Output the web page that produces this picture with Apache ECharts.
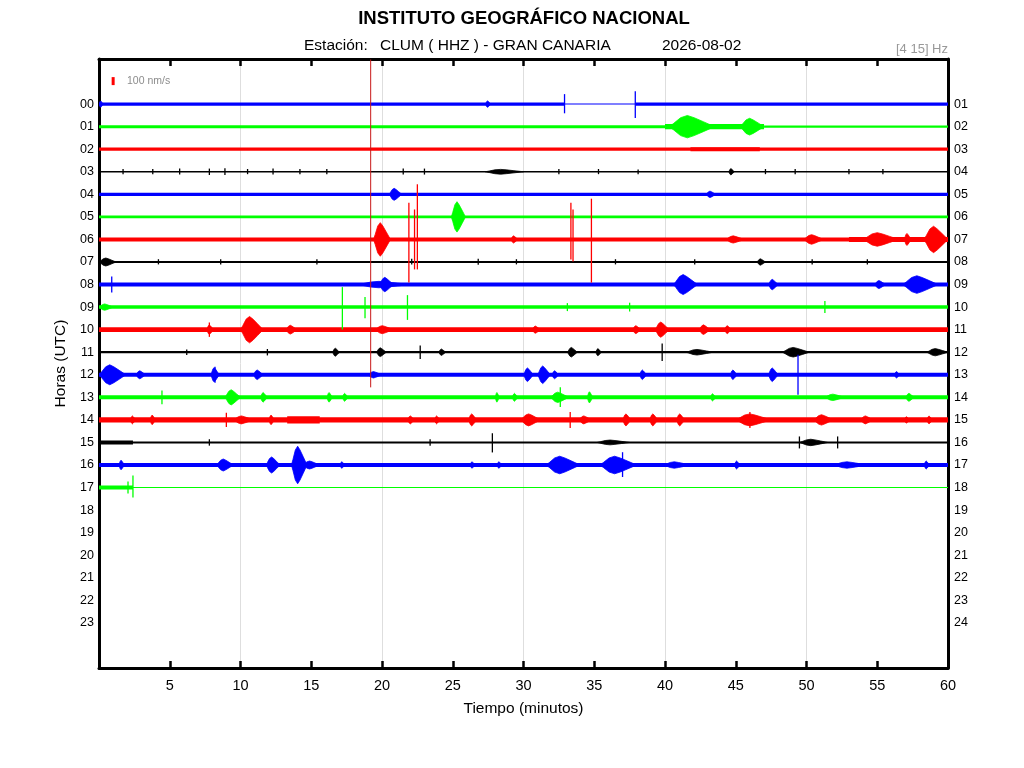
<!DOCTYPE html>
<html>
<head>
<meta charset="utf-8">
<script src="https://cdn.jsdelivr.net/npm/echarts@6/dist/echarts.min.js"></script>
<style>html,body{margin:0;padding:0;background:#fff}#c{width:1024px;height:768px}</style>
</head>
<body>
<div id="c"></div>
<script>
// ---------- data ----------
const titleText = 'INSTITUTO GEOGRÁFICO NACIONAL';
const stationLabel = 'Estación:';
const stationText = 'CLUM ( HHZ ) - GRAN CANARIA';
const dateText = '2026-08-02';
const filterText = '[4 15] Hz';
const scaleLabel = '100 nm/s';
const scaleValue = 100;              // nm/s, legend bar
const hourLabelsLeft = ['00','01','02','03','04','05','06','07','08','09','10','11','12','13','14','15','16','17','18','19','20','21','22','23'];
const hourLabelsRight = ['01','02','03','04','05','06','07','08','09','10','11','12','13','14','15','16','17','18','19','20','21','22','23','24'];
const minuteTicks = [5,10,15,20,25,30,35,40,45,50,55,60];
const rowColors = ['#0000ff','#00ff00','#ff0000','#000000'];
const gain = 0.003545;               // rows per nm/s

// background noise: [row, tStart(min), tEnd(min), half amplitude nm/s]
const noise = [
 [0,0,32.9,19],[0,32.9,37.9,0],[0,37.9,60,19],
 [1,0,40,19],[1,40,47,32],[1,47,60,15],
 [2,0,60,20],[2,41.8,46.7,25],
 [3,0,60,10],
 [4,0,60,20],
 [5,0,60,18],
 [6,0,60,25],[6,53,60,32],
 [7,0,60,12],
 [8,0,60,25],
 [9,0,60,22],
 [10,0,60,30],
 [11,0,60,14],
 [12,0,60,25],
 [13,0,60,25],
 [14,0,60,32],[14,13.3,15.6,45],
 [15,0,60,12],[15,0,2.4,25],
 [16,0,60,25],
 [17,0,2.4,25],[17,2.4,60,0]
];

// events (wave trains): [row, tStart, tEnd, peak half amplitude nm/s]
const events = [
 [0,0,0.3,40],[0,27.3,27.7,40],
 [1,40.3,43.5,140],[1,45.3,47.0,105],
 [3,27.3,30.0,30],[3,44.5,44.9,40],
 [4,20.5,21.4,75],[4,42.9,43.6,40],
 [5,24.9,25.9,190],
 [6,19.4,20.6,210],[6,29.1,29.6,45],[6,44.3,45.6,45],[6,49.8,51.2,60],[6,54.0,56.5,85],[6,56.9,57.4,75],[6,58.3,60,165],
 [7,0,1.2,50],[7,46.5,47.1,40],
 [8,18.3,22.0,40],[8,19.8,20.8,90],[8,40.6,42.3,125],[8,47.3,48.0,65],[8,54.8,55.6,50],[8,56.8,59.3,110],
 [9,0,1.0,40],
 [10,7.6,8.1,60],[10,10.0,11.6,165],[10,13.2,14.0,55],[10,19.5,20.8,50],[10,30.6,31.2,45],[10,37.7,38.3,50],[10,39.3,40.3,95],[10,42.4,43.2,60],[10,44.2,44.7,50],
 [11,16.5,17.0,50],[11,19.6,20.3,55],[11,24.0,24.5,40],[11,33.1,33.8,60],[11,35.1,35.5,45],[11,41.5,43.4,35],[11,48.3,50.2,60],[11,58.5,60,45],
 [12,0,1.9,125],[12,2.6,3.3,50],[12,7.9,8.5,90],[12,10.9,11.6,60],[12,19.0,20.0,40],[12,30.0,30.7,85],[12,31.0,31.9,110],[12,32.0,32.5,50],[12,38.2,38.7,60],[12,44.6,45.1,60],[12,47.3,48.0,85],[12,56.2,56.6,40],
 [13,8.9,10.0,95],[13,11.4,11.9,60],[13,16.1,16.5,60],[13,17.2,17.6,50],[13,28.0,28.3,60],[13,29.2,29.6,50],[13,31.9,33.2,65],[13,34.5,34.9,70],[13,43.2,43.6,45],[13,51.3,52.7,40],[13,57.0,57.6,50],
 [14,2.2,2.6,50],[14,3.6,4.0,60],[14,9.5,10.9,50],[14,12.0,12.4,60],[14,21.8,22.3,50],[14,23.7,24.1,50],[14,26.1,26.7,75],[14,29.8,31.2,75],[14,33.9,34.8,50],[14,37.0,37.6,75],[14,38.9,39.5,75],[14,40.8,41.4,75],[14,45.0,47.5,75],[14,50.5,51.9,65],[14,53.8,54.7,50],[14,56.9,57.3,40],[14,58.5,58.9,50],
 [15,35.2,37.5,30],[15,49.5,51.5,40],
 [16,1.4,1.8,60],[16,8.3,9.5,75],[16,11.8,12.8,100],[16,13.6,14.7,235],[16,14.4,15.6,50],[16,17.0,17.4,40],[16,26.2,26.6,40],[16,28.1,28.5,40],[16,31.6,34.0,110],[16,35.4,38.0,110],[16,39.9,41.8,40],[16,44.9,45.3,50],[16,51.9,54.3,40],[16,58.3,58.7,50]
];

// impulsive spikes: [row, t, up nm/s, down nm/s]
const spikes = [
 [0,32.9,125,115],[0,37.9,160,175],
 [3,1.7,35,30],[3,3.8,35,30],[3,5.7,40,35],[3,7.8,40,40],[3,8.9,45,40],[3,10.5,35,30],[3,12.3,40,35],[3,14.2,35,30],[3,16.1,35,30],[3,21.5,40,35],[3,23.0,40,35],[3,32.5,35,30],[3,35.3,35,30],[3,38.1,30,30],[3,47.1,35,30],[3,49.2,35,30],[3,53.0,35,30],[3,55.4,35,30],
 [6,21.9,460,540],[6,22.3,375,375],[6,22.5,690,375],[6,33.35,460,250],[6,33.5,375,275],[6,34.8,510,540],
 [7,4.2,35,30],[7,8.6,35,30],[7,15.4,35,30],[7,22.1,40,30],[7,26.8,40,35],[7,29.5,35,30],[7,36.5,35,30],[7,42.1,35,30],[7,50.4,35,30],[7,54.3,35,30],
 [8,0.9,100,100],
 [9,17.2,250,280],[9,18.8,125,140],[9,21.8,150,160],[9,33.1,50,50],[9,37.5,55,55],[9,51.3,75,75],
 [10,7.8,90,90],
 [11,6.2,35,35],[11,11.9,40,40],[11,22.7,85,85],[11,39.8,110,110],
 [12,8.2,100,100],[12,49.4,250,250],
 [13,4.45,85,85],[13,32.6,125,120],
 [14,9.0,90,90],[14,33.3,100,100],[14,46.0,100,100],
 [15,7.8,40,40],[15,23.4,40,40],[15,27.8,115,125],[15,49.5,75,75],[15,52.2,75,75],
 [16,37.0,160,150],
 [17,2.05,75,75],[17,2.4,150,125]
];
// very large clipped arrival on the 06 trace
const bigSpikes = [[6,19.2,2250,1850]];
// legend scale bar position: [t, row]
const scaleBar = [[1.0,-1.02,scaleValue]];

// ---------- chart ----------
const FONT = '"Liberation Sans", Arial, sans-serif';
const chart = echarts.init(document.getElementById('c'), null, {renderer:'canvas'});
const SHAPE = [[0,0],[0.1,0.3],[0.25,0.8],[0.4,1],[0.55,0.8],[0.75,0.45],[1,0]];

function bandItem(params, api){
  const row=api.value(0), t0=api.value(1), t1=api.value(2), a=api.value(3)*gain;
  const p0=api.coord([t0,row-a]), p1=api.coord([t1,row+a]);
  let y=p0[1], h=p1[1]-p0[1];
  if(h<1){ y=(p0[1]+p1[1])/2-0.5; h=1; }
  return {type:'rect', shape:{x:p0[0], y:y, width:p1[0]-p0[0], height:h}, style:{fill:rowColors[row%4]}};
}
function eventItem(params, api){
  const row=api.value(0), t0=api.value(1), t1=api.value(2), a=api.value(3)*gain;
  const d=t1-t0, pts=[];
  SHAPE.forEach(s=>pts.push(api.coord([t0+s[0]*d,row-a*s[1]])));
  for(let i=SHAPE.length-1;i>=0;i--){const s=SHAPE[i]; pts.push(api.coord([t0+s[0]*d,row+a*s[1]]));}
  return {type:'polygon', shape:{points:pts}, style:{fill:rowColors[row%4], stroke:rowColors[row%4], lineWidth:0.8}};
}
function spikeItem(params, api){
  const row=api.value(0), t=api.value(1);
  const p0=api.coord([t,row-api.value(2)*gain]), p1=api.coord([t,row+api.value(3)*gain]);
  return {type:'line', shape:{x1:p0[0],y1:p0[1],x2:p1[0],y2:p1[1]}, style:{stroke:rowColors[row%4], lineWidth:1.3}};
}
function bigSpikeItem(params, api){
  const row=api.value(0), t=api.value(1);
  const p0=api.coord([t,row-api.value(2)*gain]), p1=api.coord([t,row+api.value(3)*gain]);
  return {type:'line', shape:{x1:p0[0],y1:p0[1],x2:p1[0],y2:p1[1]}, style:{stroke:'#c81818', lineWidth:1}};
}
function scaleItem(params, api){
  const t=api.value(0), row=api.value(1), a=api.value(2)*gain/2;
  const p0=api.coord([t,row-a]), p1=api.coord([t,row+a]);
  return {type:'rect', shape:{x:p0[0]-1.5, y:p0[1], width:3, height:p1[1]-p0[1]}, style:{fill:'#ff0000'}};
}

const xBase = {
  type:'value', min:0, max:60, interval:5,
  axisLine:{show:true, onZero:false, lineStyle:{color:'#000', width:3}},
  axisTick:{show:true, inside:true, length:7, lineStyle:{color:'#000', width:2.5}},
  splitLine:{show:false}
};
const yBase = {
  type:'value', min:-2, max:25, interval:1, inverse:true,
  axisLine:{show:true, onZero:false, lineStyle:{color:'#000', width:3}},
  axisTick:{show:false}, splitLine:{show:false}
};

const option = {
  animation:false,
  textStyle:{fontFamily:FONT},
  grid:{left:99, right:76, top:59, bottom:100, containLabel:false},
  xAxis:[
    Object.assign({}, xBase, {position:'bottom',
      axisLabel:{formatter:v=>minuteTicks.indexOf(v)>=0?String(v):'', fontSize:14.5, color:'#000', margin:10, fontFamily:FONT},
      name:'Tiempo (minutos)', nameLocation:'middle', nameGap:33,
      nameTextStyle:{fontSize:15.5, color:'#000', fontFamily:FONT}}),
    Object.assign({}, xBase, {position:'top', axisLabel:{show:false}}),
    {type:'value', min:0, max:60, interval:10, position:'bottom', axisLine:{show:false}, axisTick:{show:false}, axisLabel:{show:false},
      splitLine:{show:true, lineStyle:{color:'#dedede', width:1}}}
  ],
  yAxis:[
    Object.assign({}, yBase, {position:'left',
      axisLabel:{formatter:v=>(v>=0&&v<hourLabelsLeft.length)?hourLabelsLeft[v]:'', fontSize:12.5, color:'#000', margin:5, fontFamily:FONT},
      name:'Horas (UTC)', nameLocation:'middle', nameGap:28,
      nameTextStyle:{fontSize:15.5, color:'#000', fontFamily:FONT}}),
    Object.assign({}, yBase, {position:'right',
      axisLabel:{formatter:v=>(v>=0&&v<hourLabelsRight.length)?hourLabelsRight[v]:'', fontSize:12.5, color:'#000', margin:6, fontFamily:FONT}})
  ],
  graphic:[
    {type:'text', x:524, y:19, style:{text:titleText, font:'bold 18.5px '+FONT, fill:'#000', textAlign:'center', textVerticalAlign:'middle'}},
    {type:'text', x:304, y:46, style:{text:stationLabel, font:'15.5px '+FONT, fill:'#000', textVerticalAlign:'middle'}},
    {type:'text', x:380, y:46, style:{text:stationText, font:'15.5px '+FONT, fill:'#000', textVerticalAlign:'middle'}},
    {type:'text', x:662, y:46, style:{text:dateText, font:'15.5px '+FONT, fill:'#000', textVerticalAlign:'middle'}},
    {type:'text', x:948, y:49, style:{text:filterText, font:'13px '+FONT, fill:'#999', textAlign:'right', textVerticalAlign:'middle'}},
    {type:'text', x:127, y:81, style:{text:scaleLabel, font:'10.5px '+FONT, fill:'#8c8c8c', textVerticalAlign:'middle'}}
  ],
  series:[
    {type:'custom', renderItem:bandItem, data:noise, clip:true, silent:true},
    {type:'custom', renderItem:eventItem, data:events, clip:true, silent:true},
    {type:'custom', renderItem:spikeItem, data:spikes, clip:true, silent:true},
    {type:'custom', renderItem:bigSpikeItem, data:bigSpikes, clip:true, silent:true},
    {type:'custom', renderItem:scaleItem, data:scaleBar, clip:true, silent:true}
  ]
};
chart.setOption(option);
</script>
</body>
</html>
